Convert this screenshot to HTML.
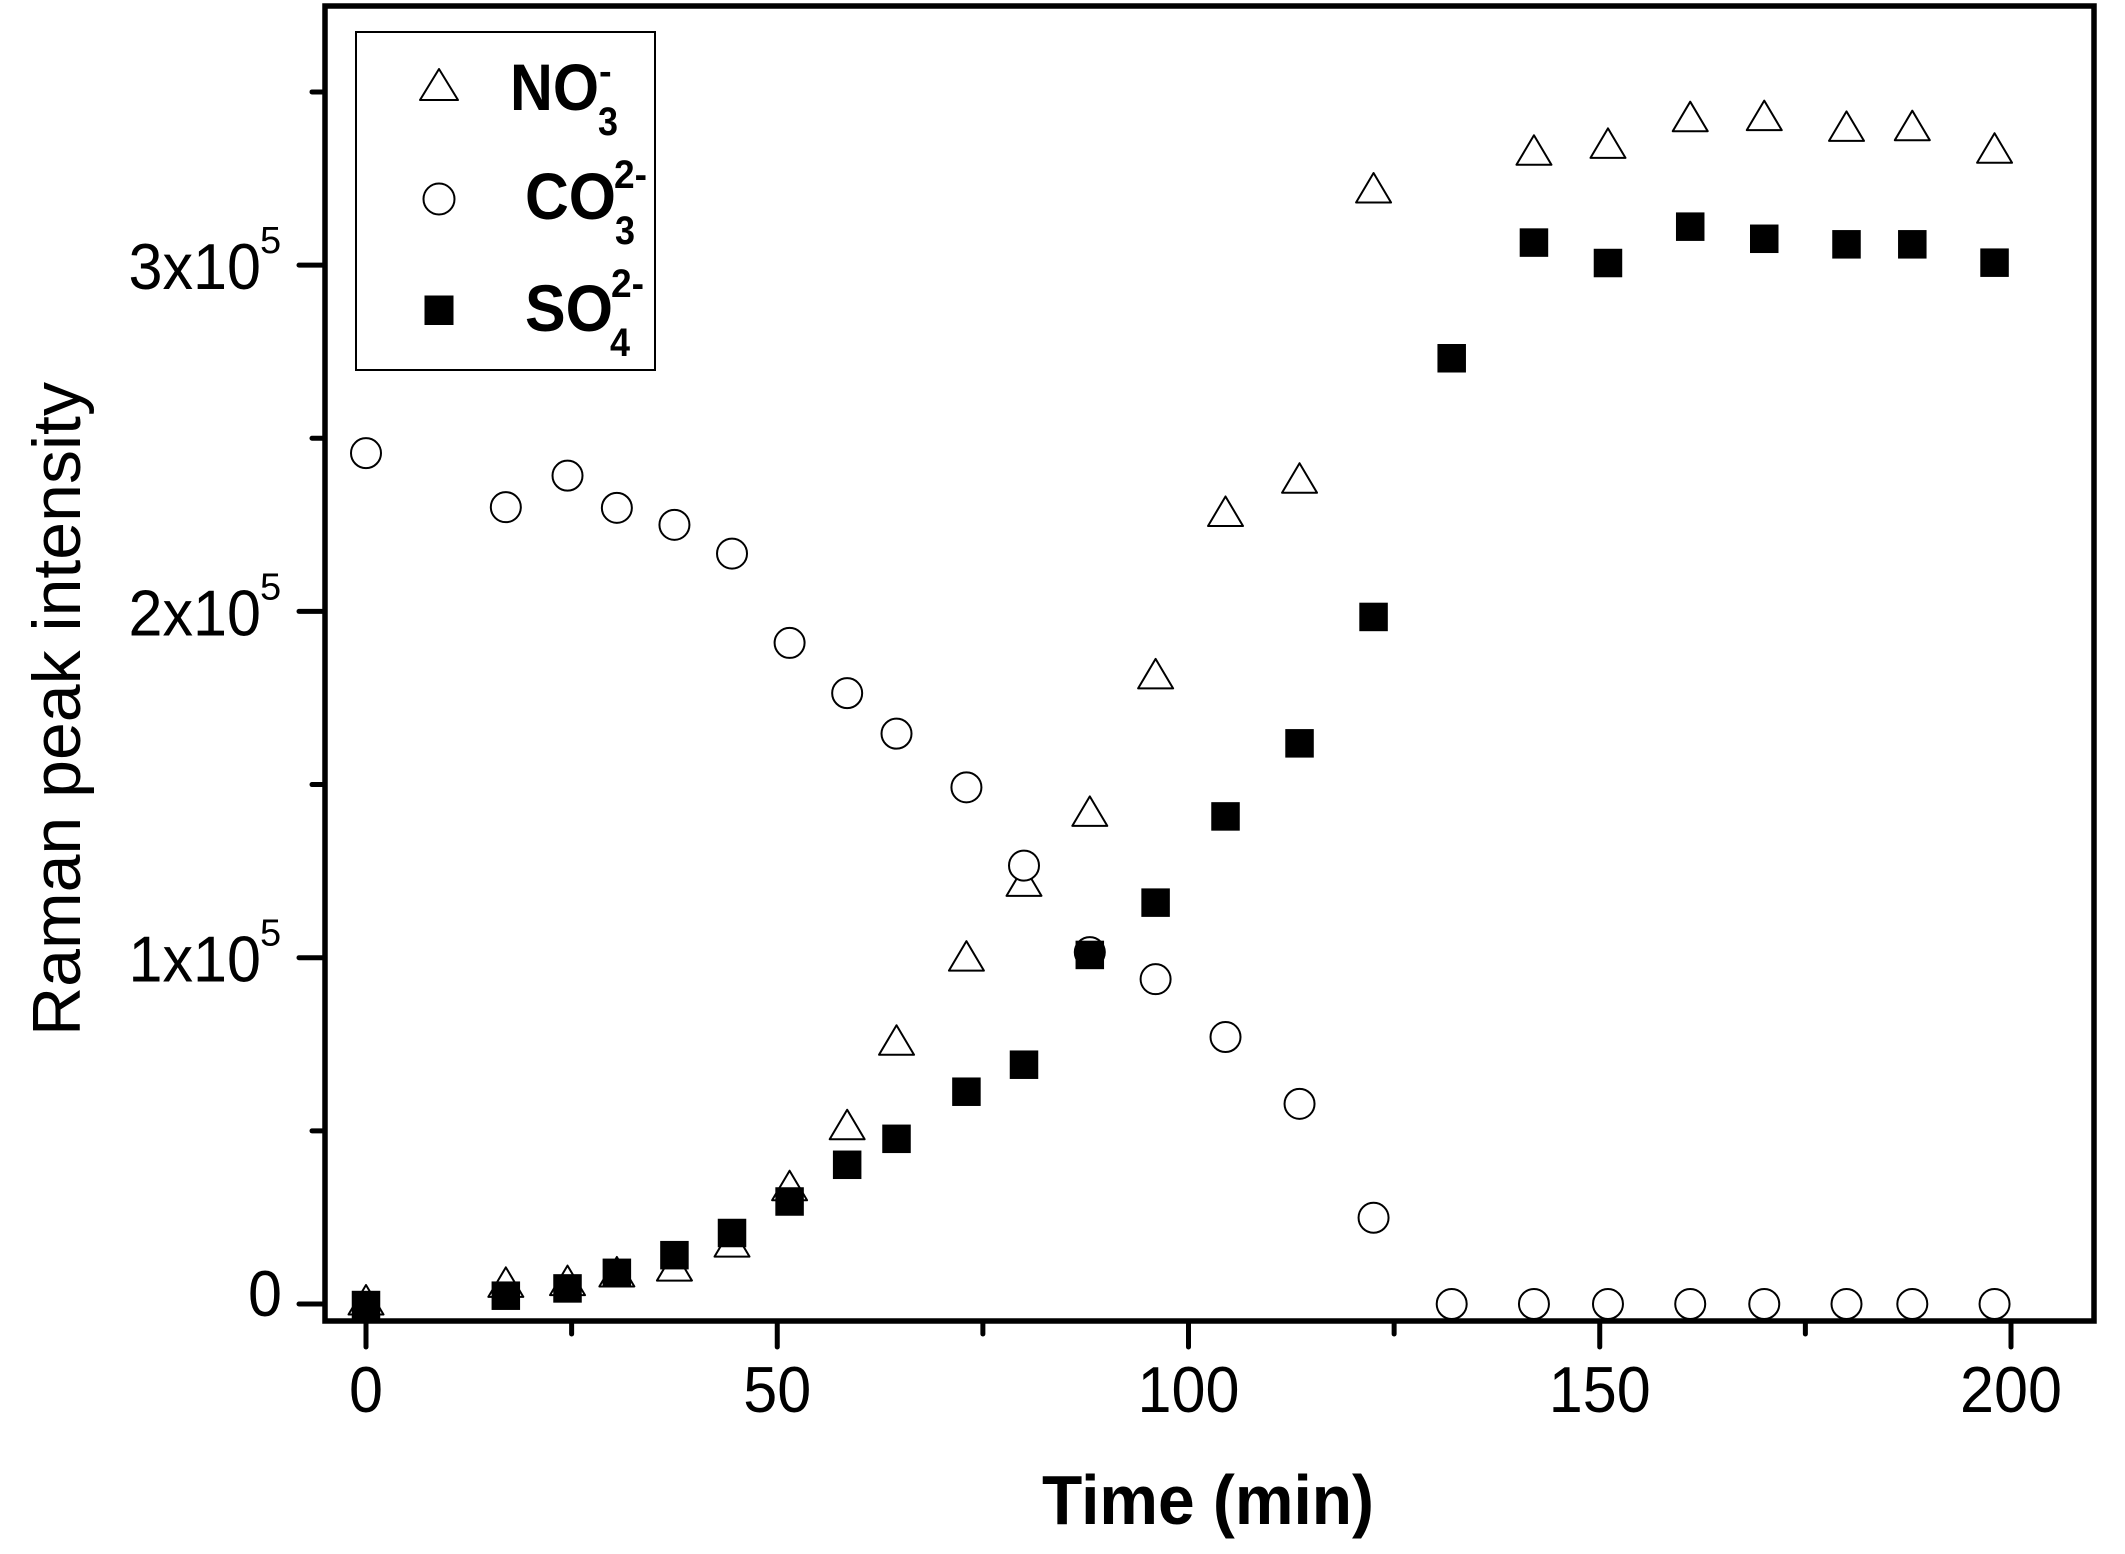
<!DOCTYPE html>
<html lang="en">
<head>
<meta charset="utf-8">
<title>Raman peak intensity vs time</title>
<style>
  html, body { margin: 0; padding: 0; background: #fff; }
  svg { display: block; }
  text { font-family: "Liberation Sans", Arial, sans-serif; fill: #000; }
  .bold { font-weight: bold; }
</style>
</head>
<body>
<svg id="chart" xmlns="http://www.w3.org/2000/svg" width="2125" height="1554" viewBox="0 0 2125 1554">
  <rect x="0" y="0" width="2125" height="1554" fill="#fff"/>
  <g id="ticks"></g>
  <rect x="325" y="6" width="1769" height="1315" fill="none" stroke="#000" stroke-width="5.5"/>
  <g id="tick-labels"></g>
  <g id="marks"></g>

  <text transform="translate(80,709) rotate(-90)" text-anchor="middle" font-size="68">Raman peak intensity</text>
  <text class="bold" x="1042" y="1524" font-size="70" textLength="332" lengthAdjust="spacingAndGlyphs">Time (min)</text>

  <g>
    <rect x="356" y="32" width="299" height="338" fill="#fff" stroke="#000" stroke-width="2"/>
    <path d="M439 69 L458 100 L420 100 Z" fill="#fff" stroke="#000" stroke-width="2" stroke-linejoin="round"/>
    <circle cx="439" cy="199" r="15.5" fill="#fff" stroke="#000" stroke-width="2"/>
    <rect x="424.5" y="295.5" width="29" height="29.5" fill="#000"/>

    <g>
      <text class="bold" x="510" y="110" font-size="66" textLength="89" lengthAdjust="spacingAndGlyphs">NO</text>
      <text class="bold" x="598" y="135" font-size="40" textLength="20" lengthAdjust="spacingAndGlyphs">3</text>
      <text class="bold" x="599" y="84" font-size="38">-</text>
    </g>
    <g>
      <text class="bold" x="525" y="219" font-size="66" textLength="91" lengthAdjust="spacingAndGlyphs">CO</text>
      <text class="bold" x="615" y="244" font-size="40" textLength="20" lengthAdjust="spacingAndGlyphs">3</text>
      <text class="bold" x="614" y="188" font-size="40" textLength="33" lengthAdjust="spacingAndGlyphs">2-</text>
    </g>
    <g>
      <text class="bold" x="525" y="331" font-size="66" textLength="88" lengthAdjust="spacingAndGlyphs">SO</text>
      <text class="bold" x="610" y="356" font-size="40" textLength="20" lengthAdjust="spacingAndGlyphs">4</text>
      <text class="bold" x="611" y="297" font-size="40" textLength="33" lengthAdjust="spacingAndGlyphs">2-</text>
    </g>
  </g>
</svg>

<script>
// ---- chart data (time in minutes, intensity in counts) ----
const timeMinutes = [0, 17, 24.5, 30.5, 37.5, 44.5, 51.5, 58.5, 64.5, 73, 80, 88, 96, 104.5, 113.5, 122.5, 132, 142, 151, 161, 170, 180, 188, 198];
const no3Values = [0, 5100, 5600, 8100, 9800, 16700, 33000, 50600, 75000, 99300, 120900, 141100, 180800, 227700, 237300, 321100, null, 332000, 334000, 341700, 342000, 338900, 339100, 332600];
const co3Values = [245700, 230100, 239200, 229900, 225000, 216700, 190900, 176400, 164700, 149200, 126600, 101600, 93800, 77100, 57800, 24900, 0, 0, 0, 0, 0, 0, 0, 0];
const so4Values = [-300, 2400, 4500, 9000, 14100, 20500, 29600, 40200, 47700, 61300, 69100, 100800, 115900, 140800, 161900, 198400, 273100, 306500, 300600, 311100, 307600, 306000, 306000, 300700];

const xMajorTicks = [0, 50, 100, 150, 200];
const xMinorTicks = [25, 75, 125, 175];
const xTickLabels = ['0', '50', '100', '150', '200'];
const yMajorTicks = [0, 100000, 200000, 300000];
const yMinorTicks = [50000, 150000, 250000, 350000];
const yTickLabels = ['0', '1x10', '2x10', '3x10'];
const yTickExponents = ['', '5', '5', '5'];

// ---- axis functions ----
function xScale(t) { return 366 + t * 8.225; }
function yScale(v) { return 1304 - v * 346.3 / 100000; }

const SVG_NS = 'http://www.w3.org/2000/svg';
const LABEL_SQUEEZE = 0.94;
function make(tag, attrs, parent) {
  const el = document.createElementNS(SVG_NS, tag);
  for (const k in attrs) el.setAttribute(k, attrs[k]);
  parent.appendChild(el);
  return el;
}

const tickGroup = document.getElementById('ticks');
const labelGroup = document.getElementById('tick-labels');
const markGroup = document.getElementById('marks');

// ---- ticks ----
function drawXTick(t, length, name) {
  const el = make('line', { x1: xScale(t), x2: xScale(t), y1: 1321, y2: 1321 + length, stroke: '#000', 'stroke-width': 5, 'stroke-linecap': 'round' }, tickGroup);
  
  
}
function drawYTick(v, length, name) {
  const el = make('line', { x1: 325, x2: 325 - length, y1: yScale(v), y2: yScale(v), stroke: '#000', 'stroke-width': 5, 'stroke-linecap': 'round' }, tickGroup);
  
  
}
xMajorTicks.forEach(function (t) { drawXTick(t, 26, 'x-major-tick'); });
xMinorTicks.forEach(function (t) { drawXTick(t, 13, 'x-minor-tick'); });
yMajorTicks.forEach(function (v) { drawYTick(v, 26, 'y-major-tick'); });
yMinorTicks.forEach(function (v) { drawYTick(v, 13, 'y-minor-tick'); });

// ---- tick labels ----
xMajorTicks.forEach(function (t, i) {
  const el = make('text', {
    transform: 'translate(' + xScale(t) + ',1412) scale(' + LABEL_SQUEEZE + ',1)',
    'text-anchor': 'middle',
    'font-size': 65
  }, labelGroup);
  el.textContent = xTickLabels[i];
  
  
});
yMajorTicks.forEach(function (v, i) {
  const hasExp = yTickExponents[i] !== '';
  const el = make('text', {
    transform: 'translate(' + (hasExp ? 261 : 282) + ',' + (yScale(v) + (hasExp ? 24 : 12)) + ') scale(' + LABEL_SQUEEZE + ',1)',
    'text-anchor': 'end',
    'font-size': 65
  }, labelGroup);
  el.textContent = yTickLabels[i];
  
  
  if (hasExp) {
    const sup = make('text', { x: 260, y: yScale(v) - 12, 'font-size': 38 }, labelGroup);
    sup.textContent = yTickExponents[i];
    
    
  }
});

// ---- marks (drawn triangles, then circles, then squares on top) ----
no3Values.forEach(function (v, i) {
  if (v === null) return;
  const cx = xScale(timeMinutes[i]);
  const cy = yScale(v);
  const el = make('path', {
    d: 'M' + cx + ' ' + (cy - 19) + ' L' + (cx + 17.5) + ' ' + (cy + 10.5) + ' L' + (cx - 17.5) + ' ' + (cy + 10.5) + ' Z',
    fill: '#fff', stroke: '#000', 'stroke-width': 2, 'stroke-linejoin': 'round'
  }, markGroup);
  
  
});
co3Values.forEach(function (v, i) {
  const el = make('circle', { cx: xScale(timeMinutes[i]), cy: yScale(v), r: 15, fill: '#fff', stroke: '#000', 'stroke-width': 2 }, markGroup);
  
  
});
so4Values.forEach(function (v, i) {
  const el = make('rect', { x: xScale(timeMinutes[i]) - 14.25, y: yScale(v) - 14.25, width: 28.5, height: 28.5, fill: '#000' }, markGroup);
  
  
});
</script>
</body>
</html>
